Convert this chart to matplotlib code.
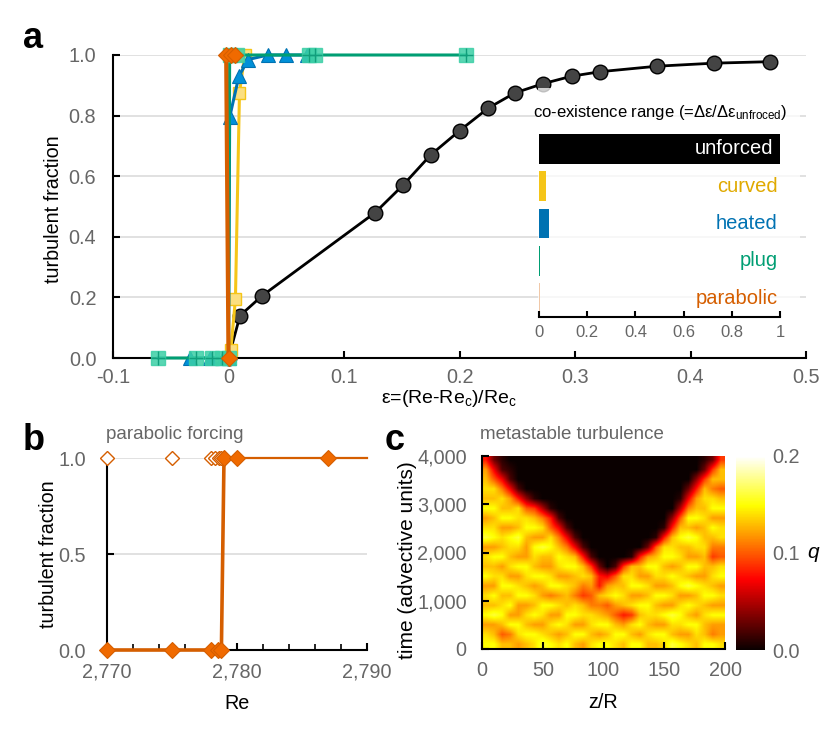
import numpy as np
import matplotlib
matplotlib.use('Agg')
import matplotlib.pyplot as plt

plt.rcParams['font.family'] = ['Liberation Sans', 'DejaVu Sans']
plt.rcParams['mathtext.default'] = 'regular'

W, H = 830, 733
GRAY = '#666666'
GRID = '#dcdcdc'

# panel a
unforced_x = [0, 0.01, 0.029, 0.127, 0.151, 0.175, 0.2, 0.225, 0.248, 0.272, 0.297, 0.322, 0.371, 0.42, 0.469]
unforced_y = [0, 0.14, 0.205, 0.48, 0.57, 0.67, 0.75, 0.825, 0.875, 0.905, 0.93, 0.945, 0.963, 0.973, 0.978]
curved_x = [0, 0.002, 0.006, 0.0095, 0.014]
curved_y = [0, 0.026, 0.195, 0.875, 1.0]
heated_x = [-0.033, -0.016, -0.005, 0, 0.001, 0.009, 0.017, 0.034, 0.05, 0.068]
heated_y = [0, 0, 0, 0, 0.795, 0.93, 0.985, 1, 1, 1]
plug_x = [-0.061, -0.028, -0.014, -0.006, 0, 0.001, 0.0075, 0.07, 0.075, 0.206]
plug_y = [0, 0, 0, 0, 0, 1, 1, 1, 1, 1]
parabolic_x = [0, -0.002, 0.002, 0.006]
parabolic_y = [0, 1, 1, 1]

# inset
range_names = ['unforced', 'curved', 'heated', 'plug', 'parabolic']
range_values = [1.0, 0.03, 0.04, 0.003, 0.003]
range_colors = ['black', '#F5C518', '#0072B2', '#009E73', '#F0C8A8']
range_text = ['white', '#E0AA00', '#0072B2', '#009E73', '#D55E00']

# panel b
re_low = [2770, 2775, 2778, 2778.5, 2778.8]
re_high_open = [2770, 2775, 2778, 2778.33, 2778.6, 2778.8]
re_high = [2779, 2780, 2787]

# panel c, q in units of 0.01, rows from t=3900 down to t=100
q_grid = [
    [8, 3, 1, 0, 0, 0, 0, 0, 0, 0, 0, 0, 0, 0, 0, 0, 0, 0, 0, 0, 0, 0, 0, 0, 0, 0, 0, 1, 3, 9],
    [12, 7, 2, 1, 0, 0, 0, 0, 0, 0, 0, 0, 0, 0, 0, 0, 0, 0, 0, 0, 0, 0, 0, 0, 0, 0, 0, 3, 9, 13],
    [13, 10, 7, 2, 0, 0, 0, 0, 0, 0, 0, 0, 0, 0, 0, 0, 0, 0, 0, 0, 0, 0, 0, 0, 0, 0, 4, 9, 13, 13],
    [14, 14, 11, 7, 2, 0, 0, 0, 0, 0, 0, 0, 0, 0, 0, 0, 0, 0, 0, 0, 0, 0, 0, 0, 0, 3, 8, 13, 11, 10],
    [13, 13, 14, 12, 8, 4, 1, 0, 0, 0, 0, 0, 0, 0, 0, 0, 0, 0, 0, 0, 0, 0, 0, 0, 1, 7, 12, 14, 14, 13],
    [15, 15, 13, 13, 14, 10, 9, 5, 1, 0, 0, 0, 0, 0, 0, 0, 0, 0, 0, 0, 0, 0, 0, 0, 5, 11, 13, 13, 15, 15],
    [12, 13, 15, 15, 14, 14, 13, 11, 8, 2, 0, 0, 0, 0, 0, 0, 0, 0, 0, 0, 0, 0, 0, 4, 10, 15, 15, 14, 12, 12],
    [14, 14, 12, 12, 13, 15, 15, 14, 10, 7, 2, 0, 0, 0, 0, 0, 0, 0, 0, 0, 0, 0, 1, 8, 13, 13, 12, 13, 15, 14],
    [16, 15, 14, 15, 16, 13, 12, 12, 14, 11, 7, 2, 0, 0, 0, 0, 0, 0, 0, 0, 0, 1, 8, 13, 15, 16, 15, 13, 13, 14],
    [12, 12, 13, 14, 14, 12, 15, 16, 15, 13, 11, 7, 2, 0, 0, 0, 0, 0, 0, 0, 3, 10, 14, 14, 13, 13, 14, 14, 11, 11],
    [14, 15, 15, 13, 12, 12, 14, 13, 13, 15, 14, 13, 8, 2, 0, 0, 0, 0, 1, 8, 12, 13, 15, 15, 14, 12, 12, 13, 9, 10],
    [13, 13, 12, 14, 15, 15, 13, 12, 12, 14, 15, 15, 13, 9, 3, 0, 2, 9, 13, 13, 15, 15, 13, 12, 13, 15, 15, 13, 13, 14],
    [15, 14, 14, 12, 12, 14, 15, 15, 14, 12, 12, 13, 14, 13, 8, 7, 10, 14, 14, 12, 12, 14, 14, 15, 14, 13, 12, 12, 14, 15],
    [12, 12, 15, 15, 14, 13, 12, 13, 15, 15, 14, 13, 11, 12, 8, 12, 13, 13, 15, 15, 14, 12, 12, 13, 15, 16, 15, 14, 13, 12],
    [14, 15, 13, 13, 15, 15, 14, 12, 11, 12, 13, 11, 9, 10, 13, 14, 15, 14, 12, 12, 13, 15, 15, 14, 12, 12, 13, 15, 15, 14],
    [13, 13, 14, 15, 12, 12, 13, 15, 15, 14, 13, 14, 13, 11, 11, 10, 12, 13, 14, 15, 15, 13, 12, 12, 14, 15, 14, 13, 12, 12],
    [15, 16, 15, 12, 12, 14, 15, 14, 12, 12, 15, 15, 14, 14, 13, 12, 10, 8, 9, 13, 14, 14, 15, 16, 15, 13, 12, 14, 15, 15],
    [12, 12, 13, 15, 15, 13, 12, 12, 14, 15, 14, 12, 12, 14, 15, 15, 13, 12, 14, 15, 13, 12, 12, 14, 14, 15, 15, 13, 12, 12],
    [14, 13, 10, 11, 14, 15, 15, 14, 13, 12, 13, 15, 15, 13, 12, 13, 15, 15, 13, 12, 14, 15, 15, 13, 12, 12, 14, 13, 11, 12],
    [15, 15, 13, 13, 12, 13, 14, 16, 15, 14, 15, 13, 12, 14, 15, 15, 14, 13, 15, 15, 13, 13, 14, 16, 15, 14, 13, 15, 15, 14],
]


def px_axes(left, top, right, bottom, **kw):
    return plt.gcf().add_axes([left / W, 1 - bottom / H, (right - left) / W, (bottom - top) / H], **kw)


def style_axes(ax, xpad, ypad, labelsize=14.3):
    ax.spines['top'].set_visible(False)
    ax.spines['right'].set_visible(False)
    for side in ['left', 'bottom']:
        ax.spines[side].set_linewidth(1.5)
    ax.tick_params(direction='in', length=5, width=1.5, labelcolor=GRAY, labelsize=labelsize)
    ax.tick_params(axis='x', pad=xpad)
    ax.tick_params(axis='y', pad=ypad)
    ax.tick_params(which='minor', direction='in', length=4, width=1.2)


fig = plt.figure(figsize=(W / 100, H / 100), dpi=100)

# panel a
ax = px_axes(113, 55, 806, 358)
style_axes(ax, 7, 12)
ax.set_xlim(-0.1, 0.5)
ax.set_ylim(0, 1)
ax.set_xticks([-0.1, 0, 0.1, 0.2, 0.3, 0.4, 0.5])
ax.set_xticklabels(['-0.1', '0', '0.1', '0.2', '0.3', '0.4', '0.5'])
ax.set_yticks([0, 0.2, 0.4, 0.6, 0.8, 1.0])
ax.set_yticklabels(['0.0', '0.2', '0.4', '0.6', '0.8', '1.0'])
ax.grid(axis='y', color=GRID, lw=1.2, zorder=0)
ax.set_axisbelow(True)
ax.set_xlabel('ε=(Re-Re$_c$)/Re$_c$', fontsize=14)
ax.xaxis.set_label_coords(0.485, -0.098)
ax.set_ylabel('turbulent fraction', fontsize=14.2)
ax.yaxis.set_label_coords(-0.072, 0.49)

ax.plot(unforced_x, unforced_y, '-o', color='black', lw=2, ms=10.5, mfc='#444444', mec='black',
        mew=1, clip_on=False, zorder=3)
ax.plot(curved_x, curved_y, '-s', color='#F5C518', lw=2.2, ms=8.5, mfc='#FBDF80', mec='#F5C518',
        mew=1, clip_on=False, zorder=4)
ax.plot(heated_x, heated_y, '-^', color='#0072B2', lw=2.2, ms=10, mfc='#0090D8', mec='#0072B2',
        mew=0.8, clip_on=False, zorder=5)
ax.plot(plug_x, plug_y, '-', color='#009E73', lw=2.2, clip_on=False, zorder=6)
ax.plot(plug_x, plug_y, 's', ms=10, mfc='#3CCFA6', mec='#3CCFA6', alpha=0.85, clip_on=False, zorder=6)
ax.plot(plug_x, plug_y, '+', ms=10, mec='#119E7C', mew=1, clip_on=False, zorder=6)
ax.plot(parabolic_x, parabolic_y, '-', color='#D55E00', lw=3, clip_on=False, zorder=7)
ax.plot(parabolic_x, parabolic_y, 'D', ms=8.5, mfc='#F06A00', mec='#D55E00', mew=0.8, clip_on=False, zorder=7)

# faded box behind the inset
box = px_axes(538, 88, 800, 342, zorder=2)
box.set_facecolor((1, 1, 1, 0.75))
box.set_xticks([])
box.set_yticks([])
for s in box.spines.values():
    s.set_visible(False)

ins = px_axes(539, 130, 780, 317, zorder=3)
ins.patch.set_alpha(0)
style_axes(ins, 6, 4, labelsize=12)
ins.spines['left'].set_visible(False)
ins.barh(range(len(range_names)), range_values, height=0.8, color=range_colors)
ins.set_xlim(0, 1)
ins.set_ylim(4.51, -0.51)
ins.set_yticks([])
ins.set_xticks([0, 0.2, 0.4, 0.6, 0.8, 1])
ins.set_xticklabels(['0', '0.2', '0.4', '0.6', '0.8', '1'])
ins.tick_params(length=4)
for i, name in enumerate(range_names):
    ins.text(0.97 if i == 0 else 0.99, i, name, color=range_text[i], ha='right', va='center', fontsize=14.5)
fig.text(660 / W, 1 - 113 / H, 'co-existence range (=Δε/Δε$_{unfroced}$)', fontsize=12,
         ha='center', va='center', zorder=4)

# panel b
axb = px_axes(107, 458, 367, 650)
style_axes(axb, 9, 15)
axb.set_xlim(2770, 2790)
axb.set_ylim(0, 1)
axb.set_xticks([2770, 2780, 2790])
axb.set_xticklabels(['2,770', '2,780', '2,790'])
axb.set_xticks(np.arange(2770, 2791, 2), minor=True)
axb.set_yticks([0, 0.5, 1])
axb.set_yticklabels(['0.0', '0.5', '1.0'])
axb.grid(axis='y', color=GRID, lw=1.2)
axb.set_axisbelow(True)
axb.set_xlabel('Re', fontsize=14.2, labelpad=9)
axb.set_ylabel('turbulent fraction', fontsize=14.2)
axb.yaxis.set_label_coords(-0.19, 0.5)
axb.plot(re_high + [2790], [1, 1, 1, 1], '-', color='#D55E00', lw=1.6, clip_on=False, zorder=3)
axb.plot(re_low + [re_high[0]], [0] * len(re_low) + [1], '-', color='#D55E00', lw=2.6, clip_on=False, zorder=3)
axb.plot(re_high_open, [1] * len(re_high_open), 'D', ms=7.5, mfc='white', mec='#D55E00', mew=1,
         clip_on=False, zorder=4)
axb.plot(re_low, [0] * len(re_low), 'D', ms=8, mfc='#F06A00', mec='#D55E00', mew=0.8, clip_on=False, zorder=4)
axb.plot(re_high, [1] * len(re_high), 'D', ms=8, mfc='#F06A00', mec='#D55E00', mew=0.8, clip_on=False, zorder=4)
fig.text(106 / W, 1 - 435 / H, 'parabolic forcing', color=GRAY, fontsize=13.5, va='center')

# panel c
axc = px_axes(482, 456, 725, 649)
style_axes(axc, 9, 11)
im = axc.imshow(np.array(q_grid) / 100, cmap='hot', vmin=0, vmax=0.2, aspect='auto',
                extent=[0, 200, 0, 4000], interpolation='bilinear')
axc.set_xticks([0, 50, 100, 150, 200])
axc.set_yticks([0, 1000, 2000, 3000, 4000])
axc.set_yticklabels(['0', '1,000', '2,000', '3,000', '4,000'])
axc.set_xlabel('z/R', fontsize=14.2, labelpad=9)
axc.set_ylabel('time (advective units)', fontsize=15)
axc.yaxis.set_label_coords(-0.267, 0.46)
fig.text(480 / W, 1 - 435 / H, 'metastable turbulence', color=GRAY, fontsize=13.5, va='center')

cax = px_axes(736, 456, 765, 650)
cb = fig.colorbar(im, cax=cax)
cb.outline.set_visible(False)
cb.set_ticks([0, 0.1, 0.2])
cb.set_ticklabels(['0.0', '0.1', '0.2'])
cb.ax.tick_params(length=0, labelcolor=GRAY, labelsize=14.3, pad=5)
fig.text(813 / W, 1 - 553 / H, 'q', fontsize=15, style='italic', va='center', ha='center')

for letter, x, y in [('a', 23, 38), ('b', 23, 441), ('c', 385, 441)]:
    fig.text(x / W, 1 - y / H, letter, fontsize=26, fontweight='bold', va='center')

fig.savefig('out.png', dpi=100)
